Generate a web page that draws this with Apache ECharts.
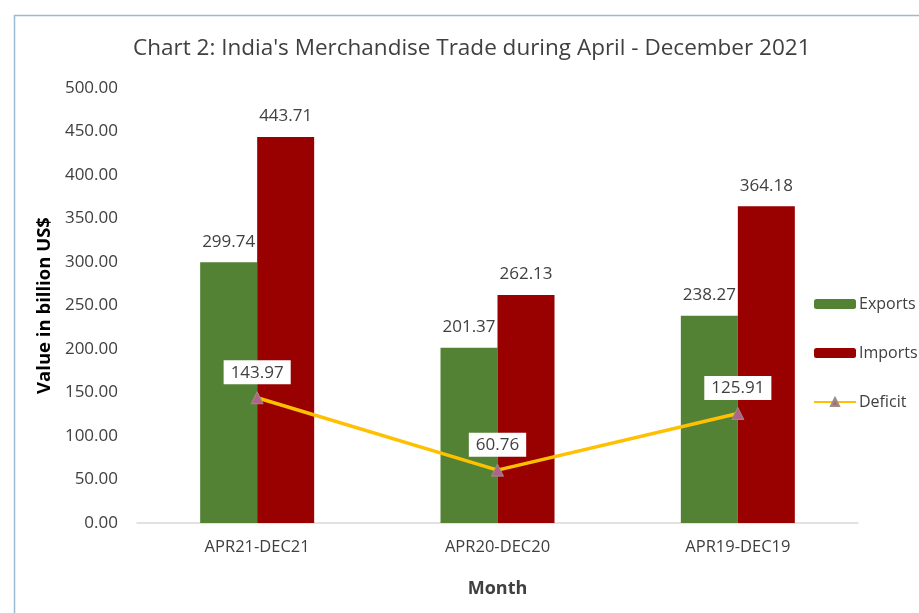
<!DOCTYPE html>
<html>
<head>
<meta charset="utf-8">
<script src="https://cdn.jsdelivr.net/npm/echarts@6/dist/echarts.min.js"></script>
<style>
    html, body { margin: 0; padding: 0; background: #fff; }
    #main { width: 919px; height: 613px; }
</style>
</head>
<body>
<div id="main"></div>
<script>
var categories = ['APR21-DEC21', 'APR20-DEC20', 'APR19-DEC19'];
var exportsData = [299.74, 201.37, 238.27];
var importsData = [443.71, 262.13, 364.18];
var deficitData = [143.97, 60.76, 125.91];

var myChart = echarts.init(document.getElementById('main'));
var fontFamily = '"Open Sans", Lato, sans-serif';

var option = {
    backgroundColor: '#fff',
    textStyle: { fontFamily: fontFamily },
    graphic: [
        {
            type: 'rect',
            shape: { x: 14.5, y: 15.5, width: 920, height: 620 },
            style: { fill: 'none', stroke: '#9bbad4', lineWidth: 1.5 },
            silent: true
        }
    ],
    title: {
        text: "Chart 2: India's Merchandise Trade during April - December 2021",
        left: 128,
        top: 32,
        textStyle: { fontSize: 22.5, fontWeight: 'normal', color: '#404040', fontFamily: fontFamily }
    },
    legend: {
        orient: 'vertical',
        left: 808,
        top: 291,
        itemWidth: 42,
        itemHeight: 10,
        itemGap: 33,
        textStyle: { fontSize: 16, color: '#404040', padding: [0, 0, 0, -2] },
        data: ['Exports', 'Imports', 'Deficit']
    },
    grid: {
        left: 137,
        right: 61,
        top: 88,
        bottom: 90
    },
    xAxis: {
        type: 'category',
        data: categories,
        name: 'Month',
        nameLocation: 'middle',
        nameGap: 57,
        nameTextStyle: { fontSize: 18, fontWeight: 'bold', color: '#404040' },
        axisLine: { lineStyle: { color: '#d9d9d9', width: 1.5 } },
        axisTick: { show: false },
        axisLabel: { fontSize: 16.5, color: '#404040', margin: 16 }
    },
    yAxis: {
        type: 'value',
        min: 0,
        max: 500,
        interval: 50,
        name: 'Value in billion US$',
        nameLocation: 'middle',
        nameGap: 80,
        nameTextStyle: { fontSize: 18.5, fontWeight: 'bold', color: '#000' },
        axisLine: { show: false },
        axisTick: { show: false },
        splitLine: { show: false },
        axisLabel: {
            fontSize: 17,
            color: '#404040',
            margin: 19,
            formatter: function (v) { return v.toFixed(2); }
        }
    },
    series: [
        {
            name: 'Exports',
            type: 'bar',
            data: exportsData,
            barWidth: 57,
            barGap: '0%',
            itemStyle: { color: '#548235' },
            label: { show: true, position: 'top', distance: 12, fontSize: 17, color: '#404040',
                formatter: function (p) { return p.value.toFixed(2); } }
        },
        {
            name: 'Imports',
            type: 'bar',
            data: importsData,
            barWidth: 57,
            barGap: '0%',
            itemStyle: { color: '#990000' },
            label: { show: true, position: 'top', distance: 12, fontSize: 17, color: '#404040',
                formatter: function (p) { return p.value.toFixed(2); } }
        },
        {
            name: 'Deficit',
            type: 'line',
            data: deficitData,
            symbol: 'triangle',
            symbolSize: 12,
            lineStyle: { color: '#ffc000', width: 3.5 },
            itemStyle: { color: '#b0648c', borderColor: '#9a8f80', borderWidth: 1 },
            z: 5,
            label: {
                show: true,
                position: 'top',
                distance: 7,
                fontSize: 17,
                color: '#404040',
                backgroundColor: '#fff',
                padding: [4, 7, 3, 7],
                formatter: function (p) { return p.value.toFixed(2); }
            }
        }
    ]
};

myChart.setOption(option);
</script>
</body>
</html>
